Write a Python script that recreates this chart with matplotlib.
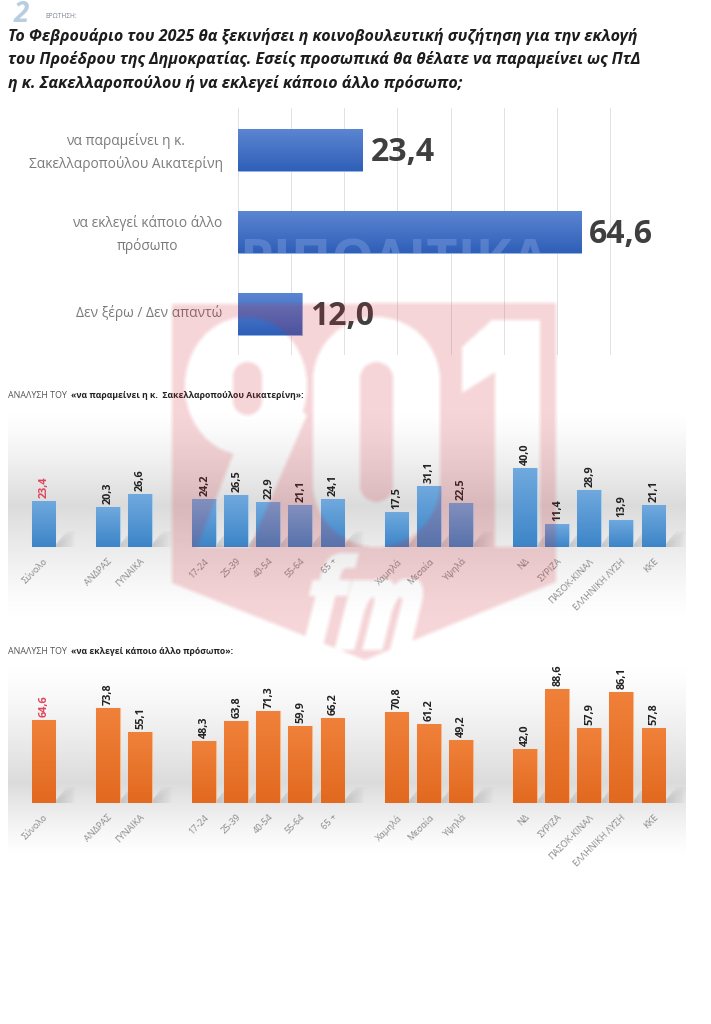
import numpy as np
import matplotlib
matplotlib.use('Agg')
import matplotlib.pyplot as plt
from matplotlib.path import Path
from matplotlib.patches import Polygon
from matplotlib.textpath import TextPath
from matplotlib.font_manager import FontProperties
from matplotlib.transforms import Affine2D, ScaledTranslation

W, H = 711, 1024

title_lines = ['Το Φεβρουάριο του 2025 θα ξεκινήσει η κοινοβουλευτική συζήτηση για την εκλογή',
               'του Προέδρου της Δημοκρατίας. Εσείς προσωπικά θα θέλατε να παραμείνει ως ΠτΔ',
               'η κ. Σακελλαροπούλου ή να εκλεγεί κάποιο άλλο πρόσωπο;']

main_labels = ['να παραμείνει η κ.\nΣακελλαροπούλου Αικατερίνη', 'να εκλεγεί κάποιο άλλο\nπρόσωπο', 'Δεν ξέρω / Δεν απαντώ']
main_values = [23.4, 64.6, 12.0]

slots = [0, 2, 3, 5, 6, 7, 8, 9, 11, 12, 13, 15, 16, 17, 18, 19]
groups = ['Σύνολο', 'ΑΝΔΡΑΣ', 'ΓΥΝΑΙΚΑ', '17-24', '25-39', '40-54', '55-64', '65 +',
          'Χαμηλά', 'Μεσαία', 'Υψηλά', 'ΝΔ', 'ΣΥΡΙΖΑ', 'ΠΑΣΟΚ-ΚΙΝΑΛ', 'ΕΛΛΗΝΙΚΗ ΛΥΣΗ', 'ΚΚΕ']
stay_values = [23.4, 20.3, 26.6, 24.2, 26.5, 22.9, 21.1, 24.1, 17.5, 31.1, 22.5, 40.0, 11.4, 28.9, 13.9, 21.1]
other_values = [64.6, 73.8, 55.1, 48.3, 63.8, 71.3, 59.9, 66.2, 70.8, 61.2, 49.2, 42.0, 88.6, 57.9, 86.1, 57.8]

plt.rcParams['font.family'] = ['Open Sans', 'Noto Sans', 'DejaVu Sans']


def pixel_axes(x0, y0, x1, y1):
    return fig.add_axes([x0 / W, 1 - y1 / H, (x1 - x0) / W, (y1 - y0) / H])


def comma(v):
    return ('%.1f' % v).replace('.', ',')


def fill_gradient(ax, bars, top, bottom):
    # gradient inside each bar, clipped to the bar itself
    xl, yl = ax.get_xlim(), ax.get_ylim()
    cmap = matplotlib.colors.LinearSegmentedColormap.from_list('g', [top, bottom])
    for b in bars:
        x, y, w, h = b.get_x(), b.get_y(), b.get_width(), b.get_height()
        im = ax.imshow(np.linspace(0, 1, 64).reshape(-1, 1), cmap=cmap, aspect='auto', zorder=b.get_zorder() + 0.1,
                       extent=[x, x + w, min(y, y + h), max(y, y + h)],
                       origin='lower' if ax.yaxis_inverted() else 'upper')
        im.set_clip_path(b)
    ax.set_xlim(xl)
    ax.set_ylim(yl)


fig = plt.figure(figsize=(W / 100, H / 100), dpi=100, facecolor='white')

# page layer in pixel coordinates
bg = fig.add_axes([0, 0, 1, 1])
bg.set_xlim(0, W)
bg.set_ylim(H, 0)
bg.axis('off')


def panel(y0, peak, y1, level):
    ys = np.arange(y0, y1)
    a = np.where(ys < peak, (ys - y0) / (peak - y0), (y1 - ys) / (y1 - peak))
    a = np.clip(a, 0, 1) ** 1.3
    rgba = np.ones((len(ys), 1, 4))
    rgba[:, 0, :3] = level
    rgba[:, 0, 3] = a
    bg.imshow(rgba, extent=[8, 686, y1, y0], aspect='auto', zorder=1)


panel(412, 505, 618, 0.86)
panel(665, 782, 855, 0.86)
bg.set_xlim(0, W)
bg.set_ylim(H, 0)

bg.text(14, 22, '2', fontsize=20, fontweight='bold', style='italic', color='#b9cde0', va='baseline', zorder=3)
bg.text(45, 17.5, 'ΕΡΩΤΗΣΗ:', fontsize=4.8, color='#7c8794', va='baseline')
for yy, line in zip([41, 64, 88], title_lines):
    bg.text(8, yy, line, fontsize=11.5, fontweight='bold', style='italic', color='#1c1c1c', va='baseline')

for yy, tail in zip([395, 651], ['«να παραμείνει η κ.  Σακελλαροπούλου Αικατερίνη»:', '«να εκλεγεί κάποιο άλλο πρόσωπο»:']):
    bg.text(8, yy, 'ΑΝΑΛΥΣΗ ΤΟΥ', fontsize=6.4, color='#555555', va='center')
    bg.text(71, yy, tail, fontsize=6.2, fontweight='bold', color='#222222', va='center')

# top chart
ax = pixel_axes(238, 108, 615.3, 355)
ax.set_zorder(2)
ax.patch.set_alpha(0)
ypos = np.arange(len(main_values))
ax.set_xlim(0, 71)
ax.set_ylim(2.5, -0.512)
bars = ax.barh(ypos, main_values, height=0.524, color='#3f6fc4', edgecolor='#8fb0e4', linewidth=0.6, zorder=3)
fill_gradient(ax, bars, '#5c86d2', '#2f5fb8')
ax.set_xticks(np.arange(0, 71, 10))
ax.grid(axis='x', color='#e2e2e2', lw=0.7, zorder=0)
ax.tick_params(length=0, labelbottom=False)
ax.set_yticks(ypos)
ax.set_yticklabels(main_labels, fontsize=9.95, color='#7a7a7a', linespacing=1.55, multialignment='center')
ax.tick_params(axis='y', pad=11)
for lab in ax.get_yticklabels():
    lab.set_transform(lab.get_transform() + ScaledTranslation(0, 3 / 100, fig.dpi_scale_trans))
for s in ax.spines.values():
    s.set_visible(False)
for y, v in zip(ypos, main_values):
    ax.text(v + 1.5, y + 0.025, comma(v), fontsize=23, fontweight='bold', color='#3f3f3f', va='center', ha='left', zorder=5)
wm = ax.text(0.3, 1.57, 'ΡΙΠΟΛΙΤΙΚΑ', fontsize=39, fontweight='bold', color='#6b8fd6', alpha=0.6, va='baseline',
             ha='left', zorder=4)
wm.set_clip_path(bars[1])
wm.set_clip_on(True)


def small_chart(y0, base, px_per_unit, values, top, bottom, edge):
    c = pixel_axes(8, y0, 686, base)
    c.set_zorder(2)
    c.patch.set_alpha(0)
    c.set_xlim((8 - 43.5) / 32.1, (686 - 43.5) / 32.1)
    c.set_ylim(0, (base - y0) / px_per_unit)
    for i in slots:
        # soft shadow behind the foot of each bar
        hgt = 16 / px_per_unit
        for k in range(10):
            f = 1 - k * 0.09
            c.add_patch(Polygon([(i + 0.3, 0), (i + 0.37 + 0.62 * f, 0), (i + 0.37 + 0.62 * f, 0.25 * hgt * f),
                                 (i + 0.37 + 0.62 * f, hgt * f), (i + 0.37 + 0.35 * f, hgt * f)],
                                closed=True, fc='#7d7d7d', ec='none', alpha=0.03, zorder=2))
    b = c.bar(slots, values, width=0.74, color=top, edgecolor=edge, linewidth=0.8, zorder=3)
    fill_gradient(c, b, top, bottom)
    c.set_xticks(slots)
    c.set_xticklabels(groups, rotation=45, ha='right', va='top', rotation_mode='anchor', fontsize=6.6, color='#8c8c8c')
    c.tick_params(axis='x', length=0, pad=7)
    c.set_yticks([])
    for s in c.spines.values():
        s.set_visible(False)
    for n, (i, v) in enumerate(zip(slots, values)):
        c.text(i + 0.02, v + 3 / px_per_unit, comma(v), rotation=90, ha='center', va='bottom', fontsize=7.8,
               fontweight='bold', color='#e0435a' if n == 0 else '#222222', zorder=5)


small_chart(415, 547, 1.975, stay_values, '#70a9de', '#3d85c8', '#a9d0f2')
small_chart(670, 803, 1.29, other_values, '#f0813a', '#e2691f', '#f8b98c')


# 901 fm watermark laid over everything, as a mask
def stadium(x0, x1, y0, y1):
    r = (x1 - x0) / 2
    t = np.linspace(np.pi, 2 * np.pi, 40)
    top = np.c_[x0 + r + r * np.cos(t), y0 + r + r * np.sin(t)]
    bot = np.c_[x0 + r - r * np.cos(t), y1 - r - r * np.sin(t)]
    return Path(np.r_[top, bot, top[:1]])


def ellipse(cx, cy, rx, ry):
    t = np.linspace(0, 2 * np.pi, 90)
    return Path(np.c_[cx + rx * np.cos(t), cy + ry * np.sin(t)])


def glyph(txt, x0, x1, y0, y1):
    p = TextPath((0, 0), txt, size=100, prop=FontProperties(family='DejaVu Sans', weight='bold', style='oblique'))
    p = p.transformed(Affine2D().skew_deg(12, 0))
    e = p.get_extents()
    tr = Affine2D().translate(-e.x0, -e.y0).scale((x1 - x0) / e.width, -(y1 - y0) / e.height).translate(x0, y1)
    return p.transformed(tr)


xx, yy = np.meshgrid(np.arange(W) + 0.5, np.arange(H) + 0.5)
pts = np.c_[xx.ravel(), yy.ravel()]


def inside(path):
    return path.contains_points(pts).reshape(H, W)


outer = inside(Path([(172, 304), (556, 303), (556, 582), (365, 660), (172, 583), (172, 304)]))
nine = inside(ellipse(246, 386, 61, 69)) | inside(Path([(235, 450), (197, 547), (250, 547), (307, 415), (290, 400), (235, 450)]))
nine &= ~inside(stadium(233, 262, 362, 415))
zero = inside(stadium(313, 440, 317, 547)) & ~inside(stadium(360, 393, 362, 502))
one = inside(Path([(492, 320), (540, 320), (540, 547), (495, 547), (495, 372), (462, 393), (462, 347), (492, 320)]))
fm = inside(glyph('fm', 305, 420, 553, 650))
fm = fm | np.roll(fm, 3, axis=1) | np.roll(fm, -3, axis=1)
mask = (outer & ~(nine | zero | one | fm)).astype(float)
for axis in (0, 1):
    mask = sum(np.roll(mask, s, axis=axis) for s in (-2, -1, 0, 1, 2)) / 5

over = np.zeros((H, W, 4))
over[..., :3] = (0.82, 0.14, 0.2)
over[..., 3] = mask * 0.19
top = fig.add_axes([0, 0, 1, 1], zorder=10)
top.imshow(over, extent=[0, W, H, 0], aspect='auto', interpolation='nearest')
top.axis('off')

fig.savefig('out.png', dpi=100, facecolor='white')
